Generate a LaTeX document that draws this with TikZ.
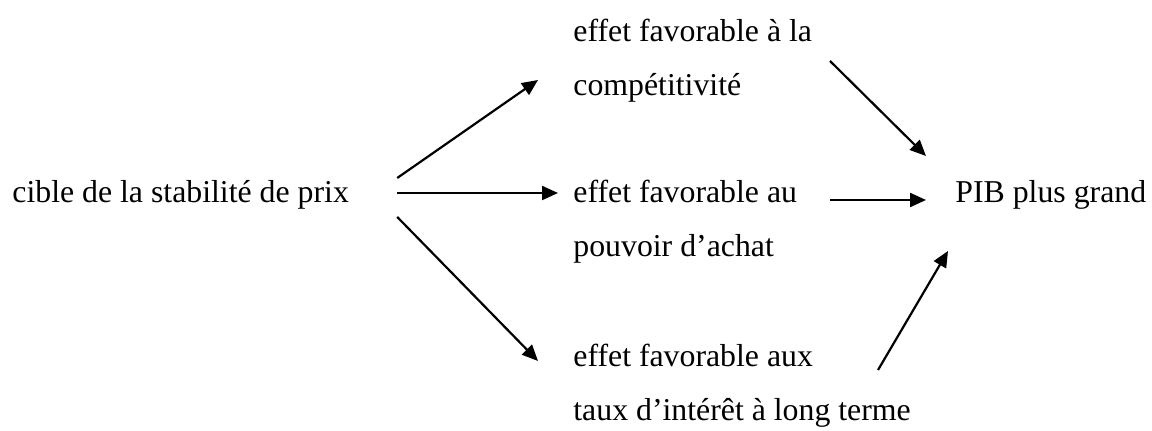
\documentclass[tikz,border=0pt]{standalone}
\usepackage{fontspec}
\setmainfont{Liberation Serif}
\usepackage{tikz}
\usetikzlibrary{
	arrows.meta,
	positioning,
	calc
}

\begin{document}
\begin{tikzpicture}[
	x=0.5pt, y=-0.5pt,
	label/.style={
		inner sep=0pt, anchor=base west, align=left,
		font=\fontsize{15.9}{27}\selectfont
	},
	arrow/.style={-{Triangle[length=8pt,width=7pt]}, line width=1.1pt, black}
	]
	\useasboundingbox (0,0) rectangle (1152,431);
	
	% target
	\node[label] (cible) at (12,203) {cible de la stabilit\'e de prix};
	
	% effects
	\node[label] (comp) at (573,96) {effet favorable \`a la\\comp\'etitivit\'e};
	\node[label] (achat) at (573,257) {effet favorable au\\pouvoir d’achat};
	\node[label] (taux) at (573,421) {effet favorable aux\\taux d’int\'er\^et \`a long terme};
	
	% result
	\node[label] (pib) at (955,203) {PIB plus grand};
	
	% arrows
	\draw[arrow] ([shift={(48,-25)}]cible.base east) -- ([shift={(-35,-16)}]comp.base west);
	\draw[arrow] ([shift={(48,-10)}]cible.base east) -- ([shift={(-15,-64)}]achat.base west);
	\draw[arrow] ([shift={(48,14)}]cible.base east)  -- ([shift={(-35,-60)}]taux.base west);
	\draw[arrow] ([shift={(257,-35)}]comp.base west) -- ([shift={(-29,-47)}]pib.base west);
	\draw[arrow] ([shift={(257,-57)}]achat.base west) -- ([shift={(-29,-3)}]pib.base west);
	\draw[arrow] ([shift={(305,-51)}]taux.base west) -- ([shift={(-7,48)}]pib.base west);
\end{tikzpicture}
\end{document}
